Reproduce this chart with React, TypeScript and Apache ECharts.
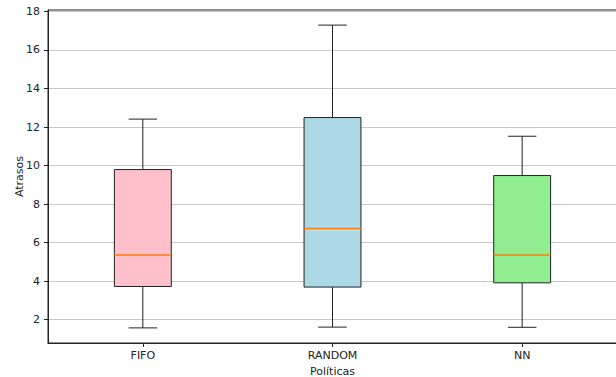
import React, { useEffect, useRef } from "react";
import * as echarts from "echarts";

const categories = ["FIFO", "RANDOM", "NN"];
const mins = [1.57, 1.61, 1.6];
const q1s = [3.72, 3.69, 3.91];
const medians = [5.35, 6.73, 5.36];
const q3s = [9.79, 12.49, 9.48];
const maxs = [12.41, 17.29, 11.52];
const yTicks = [2, 4, 6, 8, 10, 12, 14, 16, 18];
const boxColors = ["#FFC0CB", "#ADD8E6", "#90EE90"];

export default function App() {
  const ref = useRef<HTMLDivElement>(null);
  useEffect(() => {
    document.body.style.margin = "0";
    const chart = echarts.init(ref.current!, null, { renderer: "svg" });
    const data = categories.map((c, i) => [i, mins[i], q1s[i], medians[i], q3s[i], maxs[i]]);
    const font = "DejaVu Sans";
    chart.setOption({
      animation: false,
      backgroundColor: "#fff",
      grid: {
        left: 48,
        top: 10,
        bottom: 34,
        width: 569,
        outerBoundsMode: "none",
        containLabel: false,
        show: true,
        borderColor: "#222",
        borderWidth: 1,
        backgroundColor: "transparent",
      },
      xAxis: {
        type: "category",
        data: categories,
        boundaryGap: true,
        name: "Políticas",
        nameLocation: "middle",
        nameGap: 23,
        nameMoveOverlap: false,
        nameTextStyle: { fontFamily: font, fontSize: 11, color: "#222" },
        axisLine: { show: true, lineStyle: { color: "#222", width: 1 } },
        axisTick: { show: true, alignWithLabel: true, length: 4, lineStyle: { color: "#222" } },
        axisLabel: { fontFamily: font, fontSize: 11, color: "#222", margin: 7 },
        splitLine: { show: false },
      },
      yAxis: {
        type: "value",
        min: 0.785,
        max: 18.075,
        name: "Atrasos",
        nameLocation: "middle",
        nameGap: 23,
        nameRotate: 90,
        nameMoveOverlap: false,
        nameTextStyle: { fontFamily: font, fontSize: 11, color: "#222" },
        axisLine: { show: true, lineStyle: { color: "#222", width: 1 } },
        axisTick: { show: true, length: 4, lineStyle: { color: "#222" }, customValues: yTicks },
        axisLabel: { fontFamily: font, fontSize: 11, color: "#222", margin: 8, customValues: yTicks },
        splitLine: { show: true, lineStyle: { color: "#c8c8c8", width: 1 } },
      },
      series: [
        {
          type: "custom",
          data,
          encode: { x: 0, y: [1, 2, 3, 4, 5] },
          renderItem: (params: any, api: any) => {
            const i = params.dataIndex;
            const x = api.value(0);
            const band = api.size([1, 0])[0];
            const bw = band * 0.3;
            const cw = band * 0.15;
            const pMin = api.coord([x, api.value(1)]);
            const pQ1 = api.coord([x, api.value(2)]);
            const pMed = api.coord([x, api.value(3)]);
            const pQ3 = api.coord([x, api.value(4)]);
            const pMax = api.coord([x, api.value(5)]);
            const cx = pMin[0];
            const line = (x1: number, y1: number, x2: number, y2: number, color: string, w: number) => ({
              type: "line",
              shape: { x1, y1, x2, y2 },
              style: { stroke: color, lineWidth: w },
            });
            return {
              type: "group",
              children: [
                line(cx, pQ1[1], cx, pMin[1], "#222", 1),
                line(cx, pQ3[1], cx, pMax[1], "#222", 1),
                line(cx - cw / 2, pMin[1], cx + cw / 2, pMin[1], "#222", 1),
                line(cx - cw / 2, pMax[1], cx + cw / 2, pMax[1], "#222", 1),
                {
                  type: "rect",
                  shape: { x: cx - bw / 2, y: pQ3[1], width: bw, height: pQ1[1] - pQ3[1] },
                  style: { fill: boxColors[i], stroke: "#222", lineWidth: 1 },
                },
                line(cx - bw / 2, pMed[1], cx + bw / 2, pMed[1], "#ff7f0e", 1.5),
              ],
            };
          },
        },
      ],
    });
    return () => chart.dispose();
  }, []);
  return <div ref={ref} style={{ width: 616, height: 377 }} />;
}
